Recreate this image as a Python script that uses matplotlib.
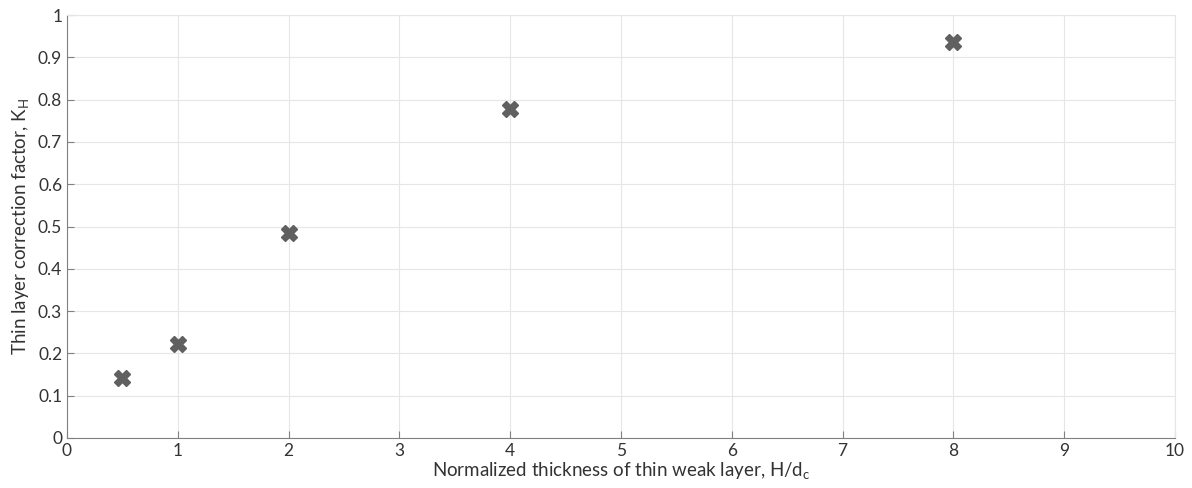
import matplotlib
matplotlib.use('Agg')
import matplotlib.pyplot as plt

plt.rcParams['font.family'] = 'Lato'
plt.rcParams['mathtext.fontset'] = 'custom'
plt.rcParams['mathtext.rm'] = 'Lato'
plt.rcParams['mathtext.it'] = 'Lato'

thickness = [0.5, 1, 2, 4, 8]
k_h = [0.142, 0.222, 0.485, 0.778, 0.936]

fig = plt.figure(figsize=(11.92, 4.88), dpi=100)
ax = fig.add_axes([0.0562, 0.1025, 0.9295, 0.8665])

ax.plot(thickness, k_h, linestyle='none', marker='X', markersize=12,
        color='#606060', markeredgecolor='#606060', zorder=3)

ax.set_xlim(0, 10)
ax.set_ylim(0, 1)
ax.set_xticks(range(0, 11))
ax.set_yticks([i / 10 for i in range(11)])
ax.set_yticklabels(['0'] + ['0.%d' % i for i in range(1, 10)] + ['1'])
ax.grid(True, color='#e6e6e6', linewidth=0.8)
ax.set_axisbelow(True)

for s in ['top', 'right']:
    ax.spines[s].set_color('#e6e6e6')
for s in ['left', 'bottom']:
    ax.spines[s].set_color('#808080')
ax.tick_params(direction='in', length=5, color='#808080', labelcolor='#333333',
               labelsize=12.5)

ax.set_xlabel('Normalized thickness of thin weak layer, H/d$_\\mathregular{c}$',
              fontsize=13.5, color='#333333', labelpad=1)
ax.set_ylabel('Thin layer correction factor, K$_\\mathregular{H}$',
              fontsize=13.5, color='#333333', labelpad=5)

fig.savefig('out.png', dpi=100)
